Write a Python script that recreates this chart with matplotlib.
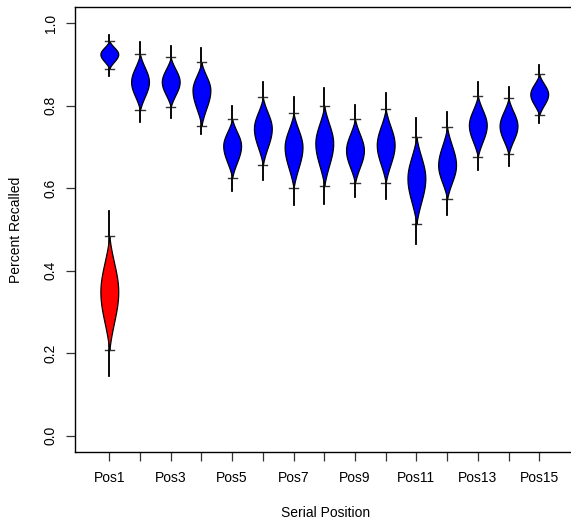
import numpy as np
import matplotlib.pyplot as plt

plt.rcParams['font.family'] = ['Liberation Sans', 'DejaVu Sans']

# violin summaries (fraction recalled)
positions = list(range(1, 16))
labels = ['Pos%d' % p for p in positions]
blue_max = [0.972, 0.955, 0.945, 0.939, 0.799, 0.857, 0.822, 0.842, 0.802, 0.830, 0.771, 0.785, 0.857, 0.846, 0.899]
blue_hi = [0.957, 0.925, 0.917, 0.905, 0.768, 0.820, 0.782, 0.800, 0.768, 0.792, 0.725, 0.748, 0.824, 0.818, 0.876]
blue_peak = [0.925, 0.858, 0.858, 0.838, 0.703, 0.745, 0.700, 0.709, 0.692, 0.705, 0.624, 0.656, 0.753, 0.751, 0.828]
blue_lo = [0.890, 0.789, 0.797, 0.751, 0.625, 0.656, 0.600, 0.605, 0.612, 0.613, 0.513, 0.574, 0.676, 0.682, 0.777]
blue_min = [0.873, 0.760, 0.771, 0.732, 0.593, 0.619, 0.559, 0.561, 0.578, 0.573, 0.466, 0.535, 0.644, 0.654, 0.757]

# the single red violin at Pos1
red_pos = 1
red_stats = [0.145, 0.207, 0.349, 0.484, 0.544]  # min, lo, peak, hi, max

HALF_W = 0.29
TICK_W = 0.15


def violin(ax, x, vmin, lo, peak, hi, vmax, color):
    # whisker line sits under the body
    ax.plot([x, x], [vmin, vmax], color='black', lw=1.1, zorder=2)
    y = np.linspace(lo, hi, 200)
    d = np.where(y >= peak, (y - peak) / (hi - peak), (peak - y) / (peak - lo))
    floor = np.exp(-0.5 * 1.9 ** 2)
    w = (np.exp(-0.5 * (1.9 * d) ** 2) - floor) / (1 - floor) * HALF_W
    ax.fill_betweenx(y, x - w, x + w, facecolor=color, edgecolor='black', lw=0.9, zorder=3)
    # little cross marks at the quantiles
    for q in (lo, hi):
        ax.plot([x - TICK_W, x + TICK_W], [q, q], color='#333333', lw=1.0, zorder=4)
    ax.plot([x, x], [hi, vmax], color='black', lw=1.1, zorder=4)
    ax.plot([x, x], [vmin, lo], color='black', lw=1.1, zorder=4)


fig = plt.figure(figsize=(5.71, 5.20), dpi=100)
ax = fig.add_axes([0.1319, 0.1302, 0.8751, 0.8569])

for i, p in enumerate(positions):
    violin(ax, p, blue_min[i], blue_lo[i], blue_peak[i], blue_hi[i], blue_max[i], 'blue')
violin(ax, red_pos, *red_stats, 'red')

ax.set_xlim(-0.107, 16.165)
ax.set_ylim(-0.04, 1.04)

ax.set_xticks(positions)
ax.set_xticklabels([lab if i % 2 == 0 else '' for i, lab in enumerate(labels)])
ax.set_yticks([0.0, 0.2, 0.4, 0.6, 0.8, 1.0])
ax.set_yticklabels(['0.0', '0.2', '0.4', '0.6', '0.8', '1.0'], rotation=90, va='center')

ax.tick_params(axis='both', direction='out', length=6.5, width=0.9, labelsize=10, color='#333333')
ax.tick_params(axis='x', pad=7)
ax.tick_params(axis='y', pad=6.3)

for s in ax.spines.values():
    s.set_linewidth(1.0)
    s.set_color('black')
ax.spines['right'].set_visible(False)

ax.set_xlabel('Serial Position', fontsize=10, labelpad=15)
ax.set_ylabel('Percent Recalled', fontsize=10, labelpad=15)

fig.savefig('out.png', dpi=100)
